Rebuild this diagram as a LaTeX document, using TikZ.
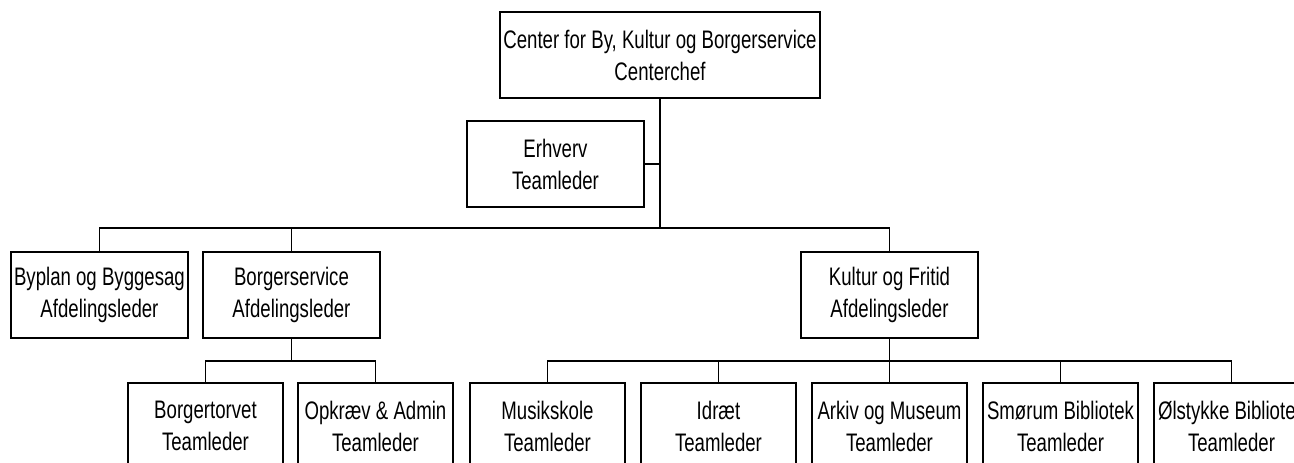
\documentclass[tikz,border=0pt]{standalone}
\usepackage{fontspec}
\setmainfont{Liberation Sans}[FakeStretch=0.735]
\usepackage{tikz}
\usetikzlibrary{positioning}
\tikzstyle{unit} = [rectangle, draw=black, line width=1pt, minimum height=64.5pt, minimum width=132.75pt, inner sep=0pt, align=center, font=\fontsize{19pt}{24pt}\selectfont]
\tikzstyle{team} = [unit, minimum width=116.25pt]
\tikzstyle{link} = [line width=1pt]

\begin{document}
\begin{tikzpicture}[node distance=11pt]
        \useasboundingbox (0,0) rectangle (970.5pt,-347.25pt);
        \clip (0,0) rectangle (970.5pt,-347.25pt);
        \node (center) [unit, minimum width=240pt] at (495pt,-41.25pt) {Center for By, Kultur og Borgerservice\\Centerchef};
        \node (erhverv) [unit, below=16.25pt of center, xshift=-78.4pt] {Erhverv\\Teamleder};
        \node (borger) [unit, below=114.5pt of center, xshift=-276.4pt] {Borgerservice\\Afdelingsleder};
        \node (byplan) [unit, left=10.25pt of borger] {Byplan og Byggesag\\Afdelingsleder};
        \node (kultur) [unit, below=114.5pt of center, xshift=172.1pt] {Kultur og Fritid\\Afdelingsleder};

        \node (borgertorvet) [team, below=32.75pt of borger, xshift=-64.5pt] {Borgertorvet\\Teamleder};
        \node (opkraev) [team, right=10.25pt of borgertorvet] {Opkræv \& Admin\\Teamleder};

        \node (musik) [team, below=32.75pt of kultur, xshift=-256.5pt] {Musikskole\\Teamleder};
        \node (idraet) [team, right=of musik] {Idræt\\Teamleder};
        \node (arkiv) [team, right=of idraet] {Arkiv og Museum\\Teamleder};
        \node (smorum) [team, right=of arkiv] {Smørum Bibliotek\\Teamleder};
        \node (olstykke) [team, right=of smorum] {Ølstykke Bibliotek\\Teamleder};

        \coordinate [below=97pt of center] (bus);
        \coordinate [below=16.75pt of borger] (borgerbus);
        \coordinate [below=16.75pt of kultur] (kulturbus);

        \draw [link] (center) -- (bus);
        \draw [link] (erhverv.east) -- (erhverv.east -| bus);
        \draw [link] (byplan.north) |- (bus) -| (kultur.north);
        \draw [link] (borger.north) -- (borger.north |- bus);

        \draw [link] (borger) -- (borgerbus);
        \draw [link] (borgertorvet.north) |- (borgerbus) -| (opkraev.north);

        \draw [link] (kultur) -- (kulturbus);
        \draw [link] (musik.north) |- (kulturbus) -| (olstykke.north);
        \draw [link] (idraet.north) -- (idraet.north |- kulturbus);
        \draw [link] (arkiv.north) -- (arkiv.north |- kulturbus);
        \draw [link] (smorum.north) -- (smorum.north |- kulturbus);
    \end{tikzpicture}
\end{document}
